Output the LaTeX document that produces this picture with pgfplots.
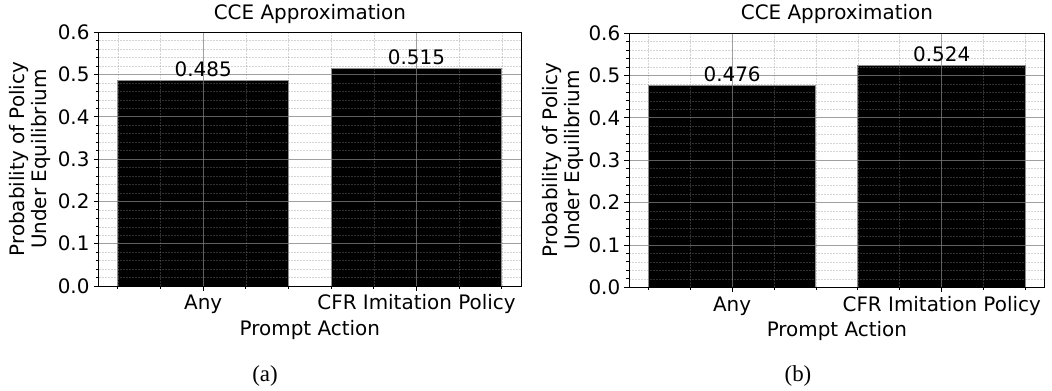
\documentclass[border=0pt]{standalone}
\usepackage{pgfplots}
\pgfplotsset{compat=1.18}
\usepackage{fontspec}
\setmainfont{DejaVu Sans}
\newfontfamily\capfont{Liberation Serif}
\definecolor{edgegray}{HTML}{909090}
\pgfplotsset{
  cceaxis/.style={
    scale only axis,
    anchor=south west,
    axis on top,
    xmin=-0.49, xmax=1.49,
    ymin=0, ymax=0.6,
    xtick={0,1},
    xticklabels={Any,CFR Imitation Policy},
    minor xtick={-0.4,-0.2,0.2,0.4,0.6,0.8,1.2,1.4},
    ytick={0,0.1,0.2,0.3,0.4,0.5,0.6},
    minor ytick={0.02,0.04,0.06,0.08,0.12,0.14,0.16,0.18,0.22,0.24,0.26,0.28,0.32,0.34,0.36,0.38,0.42,0.44,0.46,0.48,0.52,0.54,0.56,0.58},
    tick align=outside,
    major tick length=5bp,
    minor tick length=3bp,
    every tick/.style={black, line width=0.8bp},
    xtick pos=bottom, ytick pos=left,
    grid=both,
    major grid style={black!50, opacity=0.75, line width=0.8bp},
    minor grid style={black!47, opacity=0.36, line width=0.6bp, dash pattern=on 2bp off 1bp},
    axis line style={line width=0.8bp, black},
    font=\fontsize{20}{22}\selectfont,
    tick label style={font=\fontsize{20}{22}\selectfont},
    /pgf/number format/fixed,
    /pgf/number format/fixed zerofill,
    /pgf/number format/precision=1,
    /pgf/number format/assume math mode=true,
    yticklabel style={inner sep=0pt, anchor=east, xshift=-4bp},
    xticklabel style={inner sep=0pt, anchor=north, text height=0.76em, text depth=0.24em, yshift=-11bp},
    xlabel={Prompt Action},
    xlabel style={at={(axis description cs:0.5,0)}, anchor=base, inner sep=0pt, yshift=-49bp},
    ylabel={Probability of Policy\\Under Equilibrium},
    ylabel style={align=center, anchor=center, inner sep=0pt},
    title={CCE Approximation},
    title style={at={(axis description cs:0.5,1)}, anchor=base, inner sep=0pt, yshift=7.3bp},
    ybar, bar width=0.8,
    nodes near coords={\pgfmathprintnumber[fixed,fixed zerofill,precision=3,assume math mode=true]{\pgfplotspointmeta}},
    every node near coord/.style={anchor=base, inner sep=0pt, yshift=4bp, black, font=\fontsize{20}{22}\selectfont},
  }
}
\begin{document}
\begin{tikzpicture}[x=1bp,y=1bp]
\path[use as bounding box] (0bp,0bp) rectangle (1052bp,391bp);
\begin{axis}[cceaxis, at={(98.7bp,105bp)}, width=422.3bp, height=253.7bp,
  ylabel style={at={(axis description cs:-0.1627,0.5)}}]
\addplot[fill=black, draw=edgegray, line width=0.9bp] coordinates {(0,0.485) (1,0.515)};
\draw[edgegray, line width=0.8bp] (rel axis cs:0,1) -- (rel axis cs:1,1) -- (rel axis cs:1,0);
\end{axis}
\begin{axis}[cceaxis, at={(629.4bp,103.7bp)}, width=415bp, height=254.3bp,
  ylabel style={at={(axis description cs:-0.159,0.5)}}]
\addplot[fill=black, draw=edgegray, line width=0.9bp] coordinates {(0,0.476) (1,0.524)};
\draw[edgegray, line width=0.8bp] (rel axis cs:0,1) -- (rel axis cs:1,1) -- (rel axis cs:1,0);
\end{axis}
\node[font=\capfont\fontsize{23}{26}\selectfont] at (265bp,15bp) {(a)};
\node[font=\capfont\fontsize{23}{26}\selectfont] at (798bp,15bp) {(b)};
\end{tikzpicture}
\end{document}
